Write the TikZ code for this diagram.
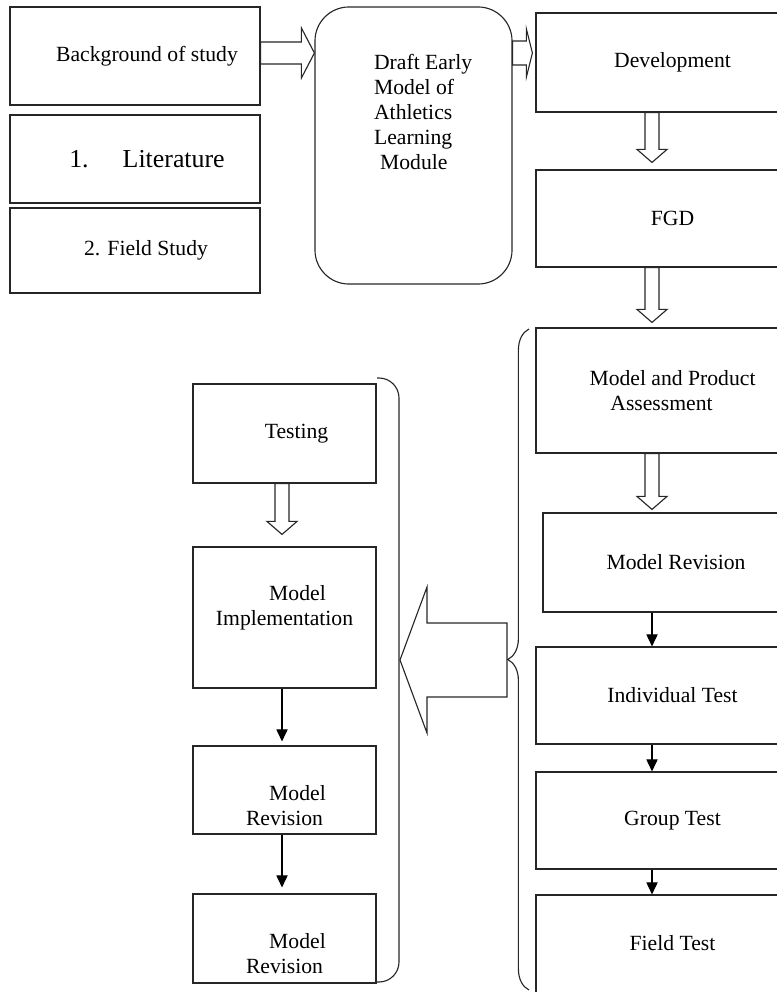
\documentclass[tikz,border=0pt]{standalone}
\usepackage{fontspec}
\setmainfont{Liberation Serif}
\usetikzlibrary{arrows.meta, calc, decorations.pathreplacing}

% hollow block arrow pointing down: upper node, lower node, gap, spine
\newcommand{\hollowdown}[4]{%
  \draw[hollow] ($(#1.south -| #4)+(-7,0)$) -- ($(#2.north -| #4)+(-7,-13-#3)$) -- ($(#2.north -| #4)+(-15,-13-#3)$) -- ($(#2.north -| #4)+(0,-#3)$) -- ($(#2.north -| #4)+(15,-13-#3)$) -- ($(#2.north -| #4)+(7,-13-#3)$) -- ($(#1.south -| #4)+(7,0)$) -- cycle;}

\begin{document}
\begin{tikzpicture}[
  x=0.025cm, y=-0.025cm,
  box/.style={draw=black!85, line width=0.8pt, align=center, inner sep=2pt, font=\fontsize{15.4}{17.7}\selectfont},
  hollow/.style={draw=black!85, line width=0.8pt, fill=white},
  thinarrow/.style={-{Triangle[length=0.3cm, width=0.28cm]}, line width=0.8pt},
  bracketline/.style={draw=black!85, line width=0.8pt}
]
  \useasboundingbox (0,0) rectangle (776,992);

  % Start: study background
  \node[box, minimum width=6.25cm, minimum height=2.45cm] (bg) at (135,56) {\hspace*{0.6cm}Background of study};
  \node[box, minimum width=6.25cm, minimum height=2.2cm, font=\fontsize{18.4}{21}\selectfont] (lit) at (135,159) {\hspace*{0.6cm}1.\hspace{0.85cm}Literature};
  \node[box, minimum width=6.25cm, minimum height=2.125cm] (field) at (135,250.5) {\hspace*{0.55cm}2. Field Study};

  % Draft model
  \node[box, rounded corners=0.85cm, minimum width=4.925cm, minimum height=6.925cm,
        label={[align=left, font=\fontsize{15.4}{17.7}\selectfont, xshift=0.24cm, yshift=0.84cm]center:{Draft Early\\Model of\\Athletics\\Learning\\\hspace*{0.15cm}Module}}] (draft) at (413.5,145.5) {};

  % Right column
  \coordinate (rspine) at (652,0);
  \node[box, minimum width=6.825cm, minimum height=2.475cm] (dev) at (672.5,62.5) {Development};
  \node[box, minimum width=6.825cm, minimum height=2.425cm] (fgd) at (672.5,218.5) {FGD};
  \node[box, minimum width=6.825cm, minimum height=3.125cm] (assess) at (672.5,390.5) {Model and Product\\Assessment\hspace*{0.55cm}};
  \node[box, minimum width=6.65cm, minimum height=2.475cm] (rrev) at (676,562.5) {Model Revision};
  \node[box, minimum width=6.825cm, minimum height=2.425cm] (indiv) at (672.5,695.5) {Individual Test};
  \node[box, minimum width=6.825cm, minimum height=2.425cm] (group) at (672.5,820.5) {Group Test};
  \node[box, minimum width=6.825cm, minimum height=2.625cm] (ftest) at (672.5,947.5) {Field Test\rule[-0.25cm]{0pt}{0.25cm}};

  % Left column
  \coordinate (lspine) at (282,0);
  \node[box, minimum width=4.575cm, minimum height=2.475cm] (testing) at (284.5,433.5) {\hspace*{0.6cm}Testing};
  \node[box, minimum width=4.575cm, minimum height=3.525cm] (impl) at (284.5,617.5) {\hspace*{0.65cm}Model\\Implementation\rule[-0.6cm]{0pt}{0.6cm}};
  \node[box, minimum width=4.575cm, minimum height=2.2cm] (lrev) at (284.5,790) {\rule{0pt}{1.15cm}\hspace*{0.65cm}Model\\Revision};
  \node[box, minimum width=4.575cm, minimum height=2.225cm] (lrevb) at (284.5,938.5) {\rule{0pt}{1.15cm}\hspace*{0.65cm}Model\\Revision};

  % Hollow arrows across the top
  \coordinate (hrow) at (0,53);
  \draw[hollow] ($(bg.east |- hrow)+(0,-11)$) -- ($(draft.west |- hrow)+(-13,-11)$) -- ($(draft.west |- hrow)+(-13,-25)$) -- (draft.west |- hrow) -- ($(draft.west |- hrow)+(-13,25)$) -- ($(draft.west |- hrow)+(-13,11)$) -- ($(bg.east |- hrow)+(0,11)$) -- cycle;
  \draw[hollow] ($(draft.east |- hrow)+(0,-12)$) -- ($(dev.west |- hrow)+(-9,-12)$) -- ($(dev.west |- hrow)+(-9,-24)$) -- ($(dev.west |- hrow)+(-3,0)$) -- ($(dev.west |- hrow)+(-9,24)$) -- ($(dev.west |- hrow)+(-9,12)$) -- ($(draft.east |- hrow)+(0,12)$) -- cycle;

  % Hollow arrows down
  \hollowdown{dev}{fgd}{7}{rspine}
  \hollowdown{fgd}{assess}{5}{rspine}
  \hollowdown{assess}{rrev}{3}{rspine}
  \hollowdown{testing}{impl}{12}{lspine}

  % Thin arrows
  \draw[thinarrow] (rrev.south -| rspine) -- (indiv.north -| rspine);
  \draw[thinarrow] (indiv.south -| rspine) -- (group.north -| rspine);
  \draw[thinarrow] (group.south -| rspine) -- (ftest.north -| rspine);
  \draw[thinarrow] (impl.south -| lspine) -- ($(lrev.north -| lspine)+(0,-4)$);
  \draw[thinarrow] (lrev.south -| lspine) -- ($(lrevb.north -| lspine)+(0,-6)$);

  % Brackets
  \draw[bracketline, decorate, decoration={brace, amplitude=0.53cm}] (529,990) -- (529,329);
  \draw[bracketline, rounded corners=0.5cm] (377,378) -- (399,378) -- (399,982) -- (377,982);

  % Big arrow from brace to bracket
  \coordinate (bracetip) at (507,660);
  \coordinate (brackettip) at (400,660);
  \draw[hollow, fill=none] ($(bracetip)+(0,-37)$) -- ($(brackettip)+(27,-37)$) -- ($(brackettip)+(27,-73)$) -- (brackettip) -- ($(brackettip)+(27,73)$) -- ($(brackettip)+(27,37)$) -- ($(bracetip)+(0,37)$) -- cycle;
\end{tikzpicture}
\end{document}
